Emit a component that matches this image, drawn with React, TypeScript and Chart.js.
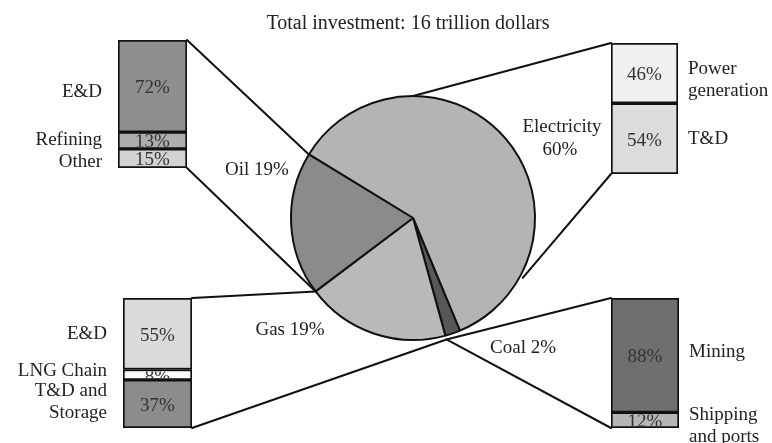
import React, { useEffect, useRef } from 'react';
import { Chart, registerables } from 'chart.js';

Chart.register(...registerables);

const TITLE = 'Total investment: 16 trillion dollars';

const sectorLabels = ['Electricity', 'Coal', 'Gas', 'Oil'];
const sectorShares = [60, 2, 19, 19];

const oilParts = ['E&D', 'Refining', 'Other'];
const oilShares = [72, 13, 15];
const elecParts = ['Power\ngeneration', 'T&D'];
const elecShares = [46, 54];
const gasParts = ['E&D', 'LNG Chain', 'T&D and\nStorage'];
const gasShares = [55, 8, 37];
const coalParts = ['Mining', 'Shipping\nand ports'];
const coalShares = [88, 12];

const W = 772;
const H = 443;
const FONT = '"Liberation Serif", "DejaVu Serif", serif';
const FS = 19;

type Area = { l: number; r: number; t: number; b: number };
type BarSpec = {
  key: string;
  parts: string[];
  shares: number[];
  colors: string[];
  area: Area;
  side: 'left' | 'right';
  labelDy: number[];
};

const BARS: BarSpec[] = [
  { key: 'Oil', parts: oilParts, shares: oilShares, colors: ['#8f8f8f', '#adadad', '#d2d2d2'], area: { l: 118, r: 187, t: 40, b: 168 }, side: 'left', labelDy: [6, 0, 4] },
  { key: 'Gas', parts: gasParts, shares: gasShares, colors: ['#dadada', '#fbfbfb', '#8c8c8c'], area: { l: 123, r: 192, t: 298, b: 428 }, side: 'left', labelDy: [0, -4, -2] },
  { key: 'Electricity', parts: elecParts, shares: elecShares, colors: ['#f0f0f0', '#dcdcdc'], area: { l: 611, r: 678, t: 43, b: 174 }, side: 'right', labelDy: [7, 0] },
  { key: 'Coal', parts: coalParts, shares: coalShares, colors: ['#6f6f6f', '#b5b5b5'], area: { l: 611, r: 679, t: 298, b: 428 }, side: 'right', labelDy: [-3, 6] },
];

function barRects(chart: any) {
  return chart.data.datasets.map((_: any, j: number) => {
    const el = chart.getDatasetMeta(j).data[0];
    const p = el.getProps(['x', 'y', 'base', 'width'], true);
    return {
      left: p.x - p.width / 2,
      right: p.x + p.width / 2,
      top: Math.min(p.y, p.base),
      bottom: Math.max(p.y, p.base),
    };
  });
}

export default function App() {
  const pieRef = useRef<HTMLCanvasElement>(null);
  const r0 = useRef<HTMLCanvasElement>(null);
  const r1 = useRef<HTMLCanvasElement>(null);
  const r2 = useRef<HTMLCanvasElement>(null);
  const r3 = useRef<HTMLCanvasElement>(null);
  const barRefs = [r0, r1, r2, r3];

  useEffect(() => {
    const bars = BARS.map((spec, i) =>
      new Chart(barRefs[i].current as HTMLCanvasElement, {
        type: 'bar',
        data: {
          labels: [spec.key],
          datasets: spec.shares.map((v, j) => ({
            label: spec.parts[j],
            data: [v],
            backgroundColor: spec.colors[j],
            borderColor: '#111',
            borderWidth: 2,
            borderSkipped: false,
            barPercentage: 1,
            categoryPercentage: 1,
          })),
        },
        options: {
          responsive: false,
          animation: false,
          layout: { padding: { left: spec.area.l, right: W - spec.area.r, top: spec.area.t, bottom: H - spec.area.b } },
          scales: {
            x: { display: false, stacked: true },
            y: { display: false, stacked: true, min: 0, max: 100, reverse: true },
          },
          plugins: { legend: { display: false }, tooltip: { enabled: false } },
        },
      } as any)
    );

    const overlay = {
      id: 'overlay',
      afterDraw(chart: any) {
        const ctx = chart.ctx as CanvasRenderingContext2D;
        const arcs = chart.getDatasetMeta(0).data.map((a: any) =>
          a.getProps(['x', 'y', 'outerRadius', 'startAngle', 'endAngle'], true)
        );
        const [elec, coal, gas, oil] = arcs;
        const cx = elec.x;
        const cy = elec.y;
        const R = elec.outerRadius;
        const pt = (ang: number, rad: number) => [cx + rad * Math.cos(ang), cy + rad * Math.sin(ang)];
        const deg = Math.PI / 180;

        const rects = bars.map(barRects);
        const outer = (i: number) => {
          const rs = rects[i];
          const top = rs[0].top;
          const bottom = rs[rs.length - 1].bottom;
          const x = BARS[i].side === 'left' ? rs[0].right : rs[0].left;
          return { x, top, bottom };
        };

        const targets: any[][] = [
          [pt(oil.endAngle, R), pt(oil.startAngle, R)],
          [pt(gas.endAngle, R), pt(gas.startAngle, R + 4)],
          [pt(-90 * deg, R), pt(28.6 * deg, R + 3)],
          [pt(coal.endAngle, R + 4), pt(coal.endAngle, R + 4)],
        ];

        ctx.save();
        ctx.strokeStyle = '#111';
        ctx.lineWidth = 2;
        ctx.lineCap = 'round';
        BARS.forEach((_, i) => {
          const o = outer(i);
          const [a, b] = targets[i];
          ctx.beginPath();
          ctx.moveTo(o.x, o.top);
          ctx.lineTo(a[0], a[1]);
          ctx.moveTo(o.x, o.bottom);
          ctx.lineTo(b[0], b[1]);
          ctx.stroke();
        });

        ctx.fillStyle = '#222';
        ctx.font = `${FS}px ${FONT}`;
        ctx.textBaseline = 'middle';

        // bar percentages and category labels
        BARS.forEach((spec, i) => {
          rects[i].forEach((r: any, j: number) => {
            const mid = (r.top + r.bottom) / 2;
            ctx.save();
            ctx.beginPath();
            ctx.rect(r.left + 2, r.top + 2, r.right - r.left - 4, r.bottom - r.top - 4);
            ctx.clip();
            ctx.fillStyle = '#333';
            ctx.textAlign = 'center';
            ctx.fillText(`${spec.shares[j]}%`, (r.left + r.right) / 2, mid + 2);
            ctx.restore();

            const lines = spec.parts[j].split('\n');
            const lh = 22;
            const y0 = mid + spec.labelDy[j] - ((lines.length - 1) * lh) / 2;
            ctx.textAlign = spec.side === 'left' ? 'right' : 'left';
            const lx = spec.side === 'left' ? r.left - 16 : r.right + 10;
            lines.forEach((ln, k) => ctx.fillText(ln, lx, y0 + k * lh));
          });
        });

        // sector labels
        ctx.textAlign = 'center';
        ctx.fillText(`${sectorLabels[3]} ${sectorShares[3]}%`, cx - 156, cy - 48);
        ctx.fillText(sectorLabels[0], cx + 149, cy - 91);
        ctx.fillText(`${sectorShares[0]}%`, cx + 147, cy - 68);
        ctx.fillText(`${sectorLabels[2]} ${sectorShares[2]}%`, cx - 123, cy + 112);
        ctx.fillText(`${sectorLabels[1]} ${sectorShares[1]}%`, cx + 110, cy + 130);

        // title
        ctx.font = `20px ${FONT}`;
        ctx.fillText(TITLE, cx - 5, 24);
        ctx.restore();
      },
    };

    const pie = new Chart(pieRef.current as HTMLCanvasElement, {
      type: 'pie',
      data: {
        labels: sectorLabels,
        datasets: [
          {
            data: sectorShares,
            backgroundColor: ['#b4b4b4', '#575757', '#b9b9b9', '#8b8b8b'],
            borderColor: '#111',
            borderWidth: 2,
          },
        ],
      },
      options: {
        responsive: false,
        animation: false,
        rotation: -58.6,
        radius: 122,
        layout: { padding: { left: 160, right: 106, top: 90, bottom: 97 } },
        plugins: { legend: { display: false }, tooltip: { enabled: false } },
      },
      plugins: [overlay],
    } as any);

    return () => {
      pie.destroy();
      bars.forEach((b) => b.destroy());
    };
  }, []);

  const cs: React.CSSProperties = { position: 'absolute', left: 0, top: 0 };
  return (
    <div style={{ position: 'fixed', left: 0, top: 0, width: W, height: H, background: '#fff' }}>
      {barRefs.map((r, i) => (
        <canvas key={i} ref={r} width={W} height={H} style={cs} />
      ))}
      <canvas ref={pieRef} width={W} height={H} style={cs} />
    </div>
  );
}
